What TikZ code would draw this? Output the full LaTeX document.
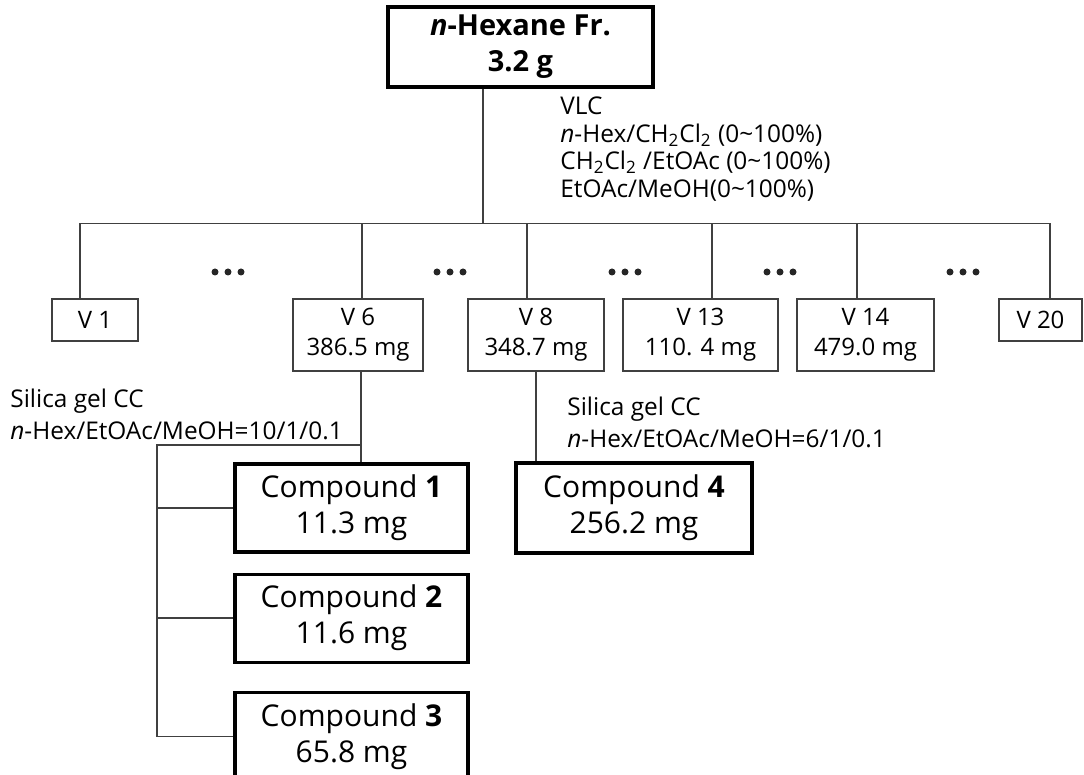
\documentclass[tikz,border=0pt]{standalone}
\usepackage{fontspec}
\setmainfont{Open Sans}
\usetikzlibrary{positioning, calc}

\begin{document}
\begin{tikzpicture}[
  x=0.5pt, y=-0.5pt,
  link/.style={draw=black!75, line width=0.7pt},
  frac/.style={draw=black!75, line width=0.7pt, inner sep=0pt, align=center, font=\fontsize{12}{15}\selectfont, minimum height=21pt},
  fracmg/.style={frac, minimum height=36pt},
  main/.style={draw, line width=1.6pt, inner sep=0pt, align=center},
  cmpd/.style={main, minimum width=116.5pt, minimum height=44pt, font=\fontsize{15}{18}\selectfont},
  cond/.style={inner sep=0pt, align=left, font=\fontsize{12.2}{16}\selectfont}
]
\useasboundingbox (0,0) rectangle (1084,775);

% crude extract
\node[main, minimum width=132.5pt, minimum height=40pt, font=\bfseries\fontsize{14.5}{18}\selectfont] (hex) at (520.5,47) {\textit{n}-Hexane Fr.\\3.2 g};
\node[cond, anchor=west, font=\fontsize{12.2}{13.7}\selectfont] (vlc) at (560,149) {VLC\\\textit{n}-Hex/CH\textsubscript{2}Cl\textsubscript{2} (0\textasciitilde100\%)\\CH\textsubscript{2}Cl\textsubscript{2} /EtOAc (0\textasciitilde100\%)\\EtOAc/MeOH(0\textasciitilde100\%)};

% VLC fractions
\node[frac, minimum width=43pt] (v1) at (95,320) {V 1};
\node[fracmg, minimum width=65pt] (v6) at (358,335) {V 6\\386.5 mg};
\node[fracmg, minimum width=68pt] (v8) at (536,335) {V 8\\348.7 mg};
\node[fracmg, minimum width=77.5pt] (v13) at (700.5,335) {V 13\\110. 4 mg};
\node[fracmg, minimum width=68.5pt] (v14) at (865.5,335) {V 14\\479.0 mg};
\node[frac, minimum width=41.5pt] (v20) at (1040.5,320) {V 20};

\draw[link] ([xshift=-18.75pt]hex.south) -- ++(0,135) coordinate (bar);
\foreach \v/\s in {v1/-7.5pt, v6/2pt, v8/-4.5pt, v13/5.75pt, v14/-4.25pt, v20/4.75pt}
  \draw[link] ([xshift=\s]\v.north) |- (bar);

\foreach \x in {228,450,625,780,963}
  \foreach \d in {-13,0,13}
    \fill[black!85] (\x+\d,272) circle [radius=1.75pt];

% column separations
\node[cond, anchor=west] (cc6) at (10,414) {Silica gel CC\\\textit{n}-Hex/EtOAc/MeOH=10/1/0.1};
\node[cond, anchor=west] (cc8) at (567,422.5) {Silica gel CC\\\textit{n}-Hex/EtOAc/MeOH=6/1/0.1};

\node[cmpd] (cmp1) at (351.5,508) {Compound \textbf{1}\\11.3 mg};
\node[cmpd, below=9.5pt of cmp1] (cmp2) {Compound \textbf{2}\\11.6 mg};
\node[cmpd, below=13.5pt of cmp2] (cmp3) {Compound \textbf{3}\\65.8 mg};
\node[cmpd, minimum width=118pt, minimum height=45pt] (cmp4) at (634,508) {Compound \textbf{4}\\256.2 mg};

\draw[link] ([xshift=1.5pt]v6.south) coordinate (v6out) -- (v6out |- cmp1.north);
\coordinate (rail) at (157,445);
\draw[link] (rail -| v6out) -- (rail) |- (cmp3.west);
\draw[link] (rail |- cmp1.west) -- (cmp1.west);
\draw[link] (rail |- cmp2.west) -- (cmp2.west);
\draw[link] (v8.south) -- (v8.south |- cmp4.north);
\end{tikzpicture}
\end{document}
